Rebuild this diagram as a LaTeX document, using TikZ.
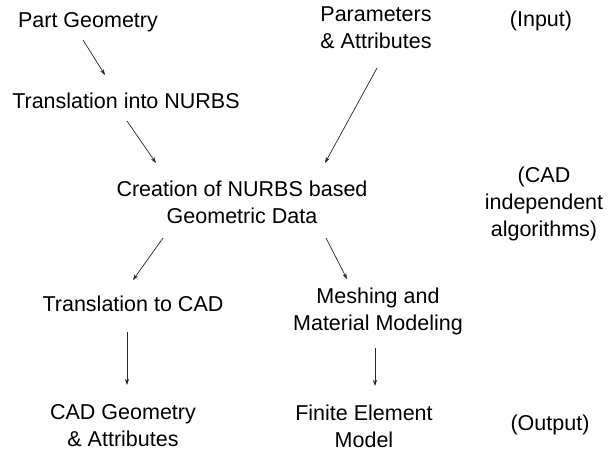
\documentclass[tikz,border=0pt]{standalone}
\usepackage{fontspec}
\setmainfont{Liberation Sans}
\usepackage{tikz}
\usetikzlibrary{arrows.meta}

\begin{document}
\begin{tikzpicture}[x=1pt,y=-1pt,>={Stealth[length=6pt,width=4pt]},
  txt/.style={inner sep=0pt,align=center,font=\fontsize{21.5}{27}\selectfont},
  flow/.style={->,line width=0.7pt,black!85}]
  \useasboundingbox (0,0) rectangle (608,455);
  % input row
  \node[txt] (pg) at (88,22) {Part Geometry};
  \node[txt] (pa) at (376,28) {Parameters\\\& Attributes};
  \node[txt] (inp) at (541,21) {(Input)};
  % NURBS steps
  \node[txt] (tn) at (126,101) {Translation into NURBS};
  \node[txt] (cr) at (242,202) {Creation of NURBS based\\Geometric Data};
  \node[txt] (alg) at (544,204) {(CAD\\independent\\algorithms)};
  % outputs
  \node[txt] (tc) at (133,304) {Translation to CAD};
  \node[txt] (mm) at (378,311) {Meshing and\\Material Modeling};
  \node[txt] (cg) at (123,426) {CAD Geometry\\\& Attributes};
  \node[txt] (fe) at (364,426) {Finite Element\\Model};
  \node[txt] (out) at (550,425) {(Output)};
  \draw[flow] ([shift={(-5,18)}]pg.center) -- ([shift={(-21,-26)}]tn.center);
  \draw[flow] ([shift={(1,20)}]tn.center) -- ([shift={(-86,-39)}]cr.center);
  \draw[flow] ([shift={(1,40)}]pa.center) -- ([shift={(83,-39)}]cr.center);
  \draw[flow] ([shift={(-79,36)}]cr.center) -- ([shift={(0,-24)}]tc.center);
  \draw[flow] ([shift={(84,36)}]cr.center) -- ([shift={(-31,-32)}]mm.center);
  \draw[flow] ([shift={(-6,28)}]tc.center) -- ([shift={(4,-41)}]cg.center);
  \draw[flow] ([shift={(-3,37)}]mm.center) -- ([shift={(11,-40)}]fe.center);
\end{tikzpicture}
\end{document}
